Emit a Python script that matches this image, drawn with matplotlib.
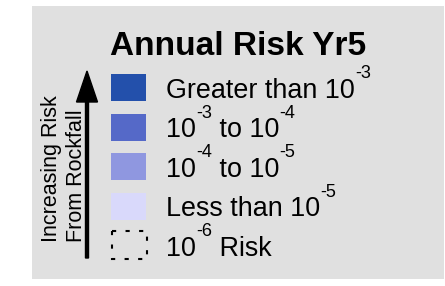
import matplotlib.pyplot as plt
from matplotlib.patches import Rectangle, FancyArrow

plt.rcParams['font.family'] = ['Liberation Sans', 'DejaVu Sans']

# Legend content
title = 'Annual Risk Yr5'
side_label = 'Increasing Risk\nFrom Rockfall'
# each label is a list of (text, is_superscript) pieces
labels = [
    [('Greater than 10', False), ('-3', True)],
    [('10', False), ('-3', True), (' to 10', False), ('-4', True)],
    [('10', False), ('-4', True), (' to 10', False), ('-5', True)],
    [('Less than 10', False), ('-5', True)],
    [('10', False), ('-6', True), (' Risk', False)],
]
colors = ['#2350AB', '#5569C8', '#8F97E0', '#D9D9FB', None]

W, H = 445, 286
fig = plt.figure(figsize=(W / 100, H / 100), dpi=100)
ax = fig.add_axes([0, 0, 1, 1])
ax.set_xlim(0, W)
ax.set_ylim(H, 0)
ax.axis('off')

# grey background panel
ax.add_patch(Rectangle((32, 6), 412, 273, facecolor='#E0E0E0', edgecolor='none'))

ax.text(110, 55, title, fontsize=24, fontweight='bold', ha='left', va='baseline')

fig.canvas.draw()
renderer = fig.canvas.get_renderer()
inv = ax.transData.inverted()

row_top, row_step = 74, 39.6
for i, (pieces, col) in enumerate(zip(labels, colors)):
    top = row_top + i * row_step
    if col is not None:
        ax.add_patch(Rectangle((111, top), 35, 27, facecolor=col, edgecolor='none'))
    else:
        ax.add_patch(Rectangle((111.5, top - 1), 35, 28, facecolor='none',
                               edgecolor='black', lw=1.5, linestyle=(0, (2, 4.5))))
    base = top + 23.5
    x = 166
    for txt, sup in pieces:
        if sup:
            t = ax.text(x, base - 19.5, txt, fontsize=13, ha='left', va='baseline')
        else:
            t = ax.text(x, base, txt, fontsize=19.4, ha='left', va='baseline')
        bb = t.get_window_extent(renderer)
        x = inv.transform((bb.x1, bb.y0))[0]

# arrow and side label
ax.add_patch(FancyArrow(87, 258, 0, -187, width=3, head_width=21, head_length=31,
                        length_includes_head=True, color='black'))
ax.text(64, 242, side_label, rotation=90, fontsize=15.5, ha='center', va='bottom',
        multialignment='left', linespacing=1.2)

fig.savefig('out.png', dpi=100)
